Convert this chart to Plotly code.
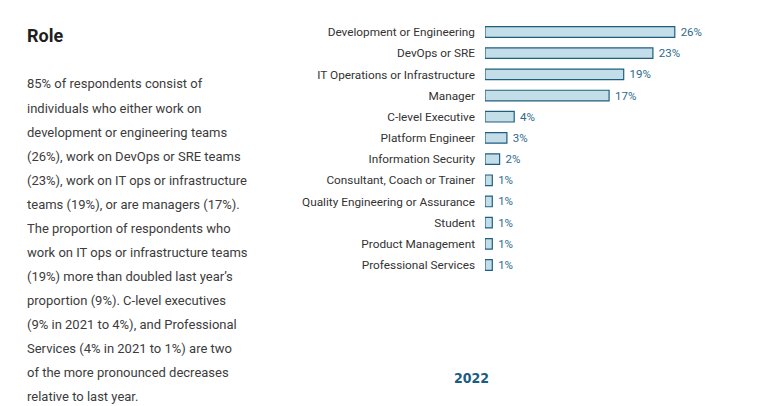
import plotly.graph_objects as go

W, H = 764, 406

roles = [
    "Development or Engineering",
    "DevOps or SRE",
    "IT Operations or Infrastructure",
    "Manager",
    "C-level Executive",
    "Platform Engineer",
    "Information Security",
    "Consultant, Coach or Trainer",
    "Quality Engineering or Assurance",
    "Student",
    "Product Management",
    "Professional Services",
]
pct_2022 = [26, 23, 19, 17, 4, 3, 2, 1, 1, 1, 1, 1]

title_text = "Role"
paragraph_lines = [
    "85% of respondents consist of",
    "individuals who either work on",
    "development or engineering teams",
    "(26%), work on DevOps or SRE teams",
    "(23%), work on IT ops or infrastructure",
    "teams (19%), or are managers (17%).",
    "The proportion of respondents who",
    "work on IT ops or infrastructure teams",
    "(19%) more than doubled last year\u2019s",
    "proportion (9%). C-level executives",
    "(9% in 2021 to 4%), and Professional",
    "Services (4% in 2021 to 1%) are two",
    "of the more pronounced decreases",
    "relative to last year.",
]
year_label = "2022"

fig = go.Figure()
fig.add_trace(go.Bar(
    x=pct_2022,
    y=roles,
    orientation="h",
    width=0.5,
    marker=dict(color="#c3dde9", line=dict(color="#1f5f7e", width=1.2)),
    text=[f" {v}%" for v in pct_2022],
    textposition="outside",
    constraintext="none",
    textfont=dict(family="Roboto", size=11.5, color="#2c6a8c"),
    cliponaxis=False,
    hoverinfo="skip",
))

def px(x):
    return x / W

def py(y):
    return 1 - y / H

row_top, row_bot = 21.4, 275.6
fig.update_layout(
    width=W, height=H,
    margin=dict(l=0, r=0, t=0, b=0),
    paper_bgcolor="white", plot_bgcolor="white",
    showlegend=False,
    xaxis=dict(domain=[px(485), px(485 + 30 * 7.3)], range=[0, 30],
               visible=False, fixedrange=True),
    yaxis=dict(domain=[py(row_bot), py(row_top)], type="category",
               categoryorder="array", categoryarray=roles[::-1],
               range=[-0.5, len(roles) - 0.5],
               showgrid=False, zeroline=False, showline=False, ticks="",
               ticklabelstandoff=9,
               tickfont=dict(family="Roboto", size=11.8, color="#333333"),
               fixedrange=True),
    font=dict(family="Roboto"),
)

annotations = [dict(
    text=f"<b>{title_text}</b>", xref="paper", yref="paper",
    x=px(25), y=py(35), xanchor="left", yanchor="middle", showarrow=False,
    font=dict(family="Roboto", size=18, color="#1f1f1f"),
)]
for i, line in enumerate(paragraph_lines):
    annotations.append(dict(
        text=line, xref="paper", yref="paper",
        x=px(25), y=py(84 + 24 * i), xanchor="left", yanchor="middle",
        showarrow=False,
        font=dict(family="Roboto", size=13, color="#3c3c3c"),
    ))
annotations.append(dict(
    text=f"<b>{year_label}</b>", xref="paper", yref="paper",
    x=px(471), y=py(378), xanchor="center", yanchor="middle", showarrow=False,
    font=dict(family="DejaVu Sans Condensed, Roboto", size=14, color="#1b5c82"),
))
fig.update_layout(annotations=annotations)

fig.write_html("out.html")
